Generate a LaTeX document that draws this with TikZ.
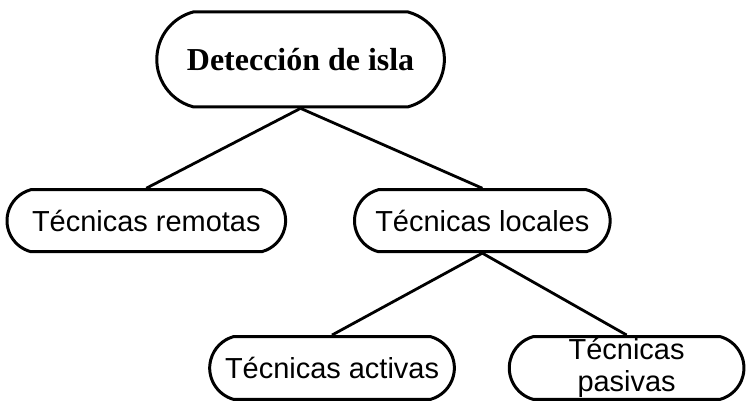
\documentclass[tikz,border=0pt]{standalone}
\usepackage{fontspec}
\setmainfont{Liberation Sans}
\newfontfamily\seriffont{Liberation Serif}
\usetikzlibrary{shapes.misc, positioning}

\tikzset{
	caja/.style={rounded rectangle, rounded rectangle arc length=150, draw, line width=3pt,
		inner sep=0pt, minimum height=62pt, align=center,
		font=\fontsize{29}{32}\selectfont},
	raiz/.style={caja, minimum height=95pt, minimum width=288pt,
		font=\seriffont\bfseries\fontsize{32}{36}\selectfont}
}

\begin{document}
\begin{tikzpicture}[on grid, line width=2.8pt]
	\node[raiz]                     (deteccion)                                          {Detección de isla};
	\node[caja, minimum width=279pt] (remotas) [below left=161.5pt and 154.5pt of deteccion] {Técnicas remotas};
	\node[caja, minimum width=256pt] (locales) [below right=161.5pt and 182pt of deteccion]  {Técnicas locales};
	\node[caja, minimum width=245pt, minimum height=63pt] (activas) [below left=147.5pt and 150.5pt of locales]  {Técnicas activas};
	\node[caja, minimum width=235pt, minimum height=63pt] (pasivas) [below right=147.5pt and 144.5pt of locales] {Técnicas\\pasivas};

	\draw (deteccion.south) -- (remotas.north);
	\draw (deteccion.south) -- (locales.north);
	\draw (locales.south) -- (activas.north);
	\draw (locales.south) -- (pasivas.north);

	\useasboundingbox (deteccion.center) ++(-301pt,59.5pt) rectangle ++(749pt,-402pt);
\end{tikzpicture}
\end{document}
